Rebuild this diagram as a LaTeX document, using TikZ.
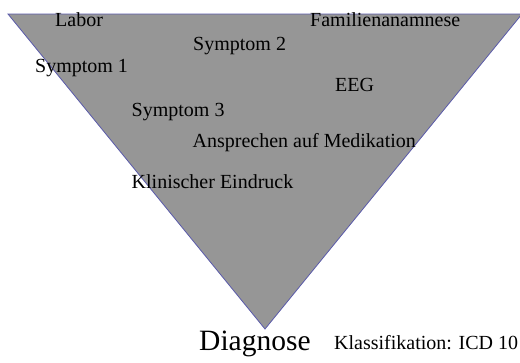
\documentclass[tikz,border=0pt]{standalone}
\usepackage{fontspec}
\setmainfont{Liberation Serif}
\definecolor{funnelfill}{RGB}{150,150,150}
\definecolor{funneledge}{RGB}{90,90,170}
\begin{document}
\begin{tikzpicture}[x=1pt,y=-1pt,
  lbl/.style={anchor=base west,inner sep=0pt,font=\fontsize{20}{24}\selectfont},
  biglbl/.style={anchor=base west,inner sep=0pt,font=\fontsize{29.5}{34}\selectfont}]
  \useasboundingbox (0,0) rectangle (520,362);
  \clip (0,0) rectangle (520,362);
  % funnel narrowing towards the diagnosis
  \coordinate (tl) at (8,14);
  \coordinate (tr) at (522,14);
  \coordinate (apex) at (265,329);
  \filldraw[fill=funnelfill,draw=funneledge,line width=0.8pt] (tl) -- (tr) -- (apex) -- cycle;
  % findings
  \node[lbl] (labor) at (55,26) {Labor};
  \node[lbl] (fam) at (310,26) {Familienanamnese};
  \node[lbl] (s2) at (193,50.5) {Symptom 2};
  \node[lbl] (s1) at (35,72) {Symptom 1};
  \node[lbl] (eeg) at (335,91.5) {EEG};
  \node[lbl] (s3) at (131.5,116.5) {Symptom 3};
  \node[lbl] (med) at (192.5,147) {Ansprechen auf Medikation};
  \node[lbl] (klin) at (131.5,188) {Klinischer Eindruck};
  % result
  \node[biglbl] (diag) at (199,350) {Diagnose};
  \node[lbl] (icd) at (334,349.5) {Klassifikation: ICD 10};
\end{tikzpicture}
\end{document}
